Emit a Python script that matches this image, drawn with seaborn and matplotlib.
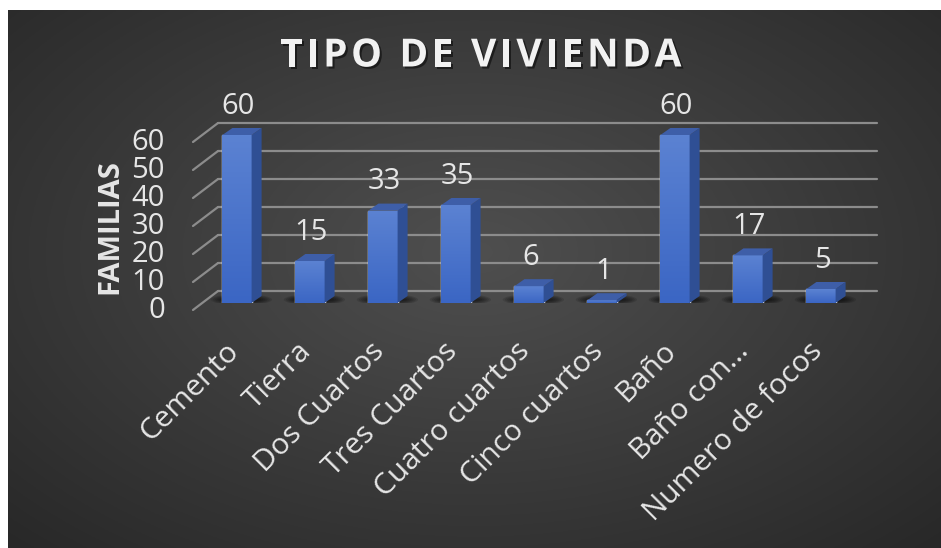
"""Tipo de vivienda - 3D-style column chart on a dark radial background."""
import numpy as np
import pandas as pd
import matplotlib
matplotlib.use('Agg')
import matplotlib.pyplot as plt
import matplotlib.patheffects as pe
from matplotlib.patches import Polygon, Ellipse
import seaborn as sns

categories = ['Cemento', 'Tierra', 'Dos Cuartos', 'Tres Cuartos', 'Cuatro cuartos',
              'Cinco cuartos', 'Baño', 'Baño con...', 'Numero de focos']
familias = [60, 15, 33, 35, 6, 1, 60, 17, 5]
y_ticks = [0, 10, 20, 30, 40, 50, 60]
title = 'TIPO DE VIVIENDA'
ylabel = 'FAMILIAS'

W, H = 941, 548
sns.set_theme(style='white')
plt.rcParams['font.family'] = ['Open Sans', 'DejaVu Sans']
TXT = '#e6e6e6'

fig = plt.figure(figsize=(W / 100, H / 100), dpi=100, facecolor='white')

# dark radial gradient background
bg = fig.add_axes([8 / W, 0, 1 - 8 / W, 1 - 10 / H])
bg.set_axis_off()
yy, xx = np.mgrid[0:1:300j, 0:1:500j]
r = np.sqrt(((xx - 0.5) / 0.75) ** 2 + ((yy - 0.45) / 0.8) ** 2)
r = np.clip(r, 0, 1)
inner, outer = np.array([0.31, 0.31, 0.31]), np.array([0.15, 0.15, 0.15])
img = inner[None, None, :] * (1 - r[..., None]) + outer[None, None, :] * r[..., None]
bg.imshow(img, extent=[0, 1, 0, 1], aspect='auto', origin='upper')

# plot axes: bar base at pixel row 303, 2.8 px per unit, bar pitch 73 px
ax = fig.add_axes([200.5 / W, (H - 303) / H, 657 / W, 210 / H])
ax.patch.set_alpha(0)
df = pd.DataFrame({'tipo': categories, 'familias': familias})
sns.barplot(data=df, x='tipo', y='familias', width=0.4, color='#4472c4',
            saturation=1, ax=ax, zorder=3)
ax.set_xlim(-0.5, len(categories) - 0.5)
ax.set_ylim(0, 75)
for s in ax.spines.values():
    s.set_visible(False)
ax.set_xticks([])
ax.set_yticks([])
ax.set_xlabel('')
ax.set_ylabel('')

px_x = 1 / 73.0   # data units per pixel, x
px_y = 1 / 2.8    # data units per pixel, y

# gridlines: back wall + slanted side
back_dy, front_dy = 12 * px_y, -7 * px_y
x_front, x_back, x_end = -0.603, -0.26, 8.77
for v in y_ticks:
    ax.plot([x_back, x_end], [v + back_dy, v + back_dy], color='#8c8c8c', lw=1.6,
            clip_on=False, zorder=1)
    ax.plot([x_front, x_back], [v + front_dy, v + back_dy], color='#8c8c8c', lw=1.6,
            clip_on=False, zorder=1)
    ax.text(x_front - 28 * px_x, v + front_dy, str(v), ha='right', va='center',
            fontsize=21, color=TXT, clip_on=False)

# 3D faces for each bar
dx, dy = 10 * px_x, 7 * px_y
grad = np.linspace(0, 1, 100)[:, None]
face_cmap = matplotlib.colors.LinearSegmentedColormap.from_list('f', ['#5b82d2', '#3b66c4'])
for p, v in zip(ax.patches, familias):
    x0, w, h = p.get_x(), p.get_width(), p.get_height()
    x1 = x0 + w
    # soft floor shadow
    for k in range(6):
        ax.add_patch(Ellipse((x0 + w / 2 + 0.06, 1.2), w * (2.1 - 0.15 * k),
                             4.0 - 0.5 * k, color='black', alpha=0.12, lw=0, zorder=2))
    im = ax.imshow(grad, extent=[x0, x1, 0, h], aspect='auto', origin='upper',
                   cmap=face_cmap, zorder=3)
    im.set_clip_path(p)
    ax.add_patch(Polygon([[x1, 0], [x1 + dx, dy], [x1 + dx, h + dy], [x1, h]],
                         closed=True, fc='#2f4f94', ec='none', zorder=3))
    ax.add_patch(Polygon([[x0, h], [x1, h], [x1 + dx, h + dy], [x0 + dx, h + dy]],
                         closed=True, fc='#3e5ea8', ec='none', zorder=3))
    ax.text(x0 + w / 2 + 0.02, h + 10.3, str(v), ha='center', va='center',
            fontsize=21, color=TXT)

# category labels, rotated
for i, lab in enumerate(categories):
    ax.text(i - 3 * px_x, -44 * px_y, lab, rotation=45, rotation_mode='anchor',
            ha='right', va='center', fontsize=21.5, color=TXT, clip_on=False)

fig.text(110 / W, 1 - 227 / H, ylabel, rotation=90, ha='center', va='center',
         fontsize=21, fontweight='bold', color=TXT)

# letter-spaced title, one glyph at a time
renderer = fig.canvas.get_renderer()
shadow = [pe.SimplePatchShadow(offset=(1.5, -1.5), shadow_rgbFace='black', alpha=0.5),
          pe.Normal()]
glyphs, widths = [], []
for ch in title:
    t = fig.text(0, 1 - 56 / H, ch if ch != ' ' else 'I', ha='left', va='center',
                 fontsize=28, fontweight='bold', color='#f2f2f2', path_effects=shadow)
    wd = t.get_window_extent(renderer).width
    if ch == ' ':
        t.set_text('')
        wd *= 0.8
    widths.append(wd)
    glyphs.append(t)
spacing = 3.6
total = sum(widths) + spacing * (len(title) - 1)
x = 481 - total / 2
for t, wd in zip(glyphs, widths):
    t.set_x(x / W)
    x += wd + spacing

fig.savefig('out.png', dpi=100, facecolor=fig.get_facecolor())
